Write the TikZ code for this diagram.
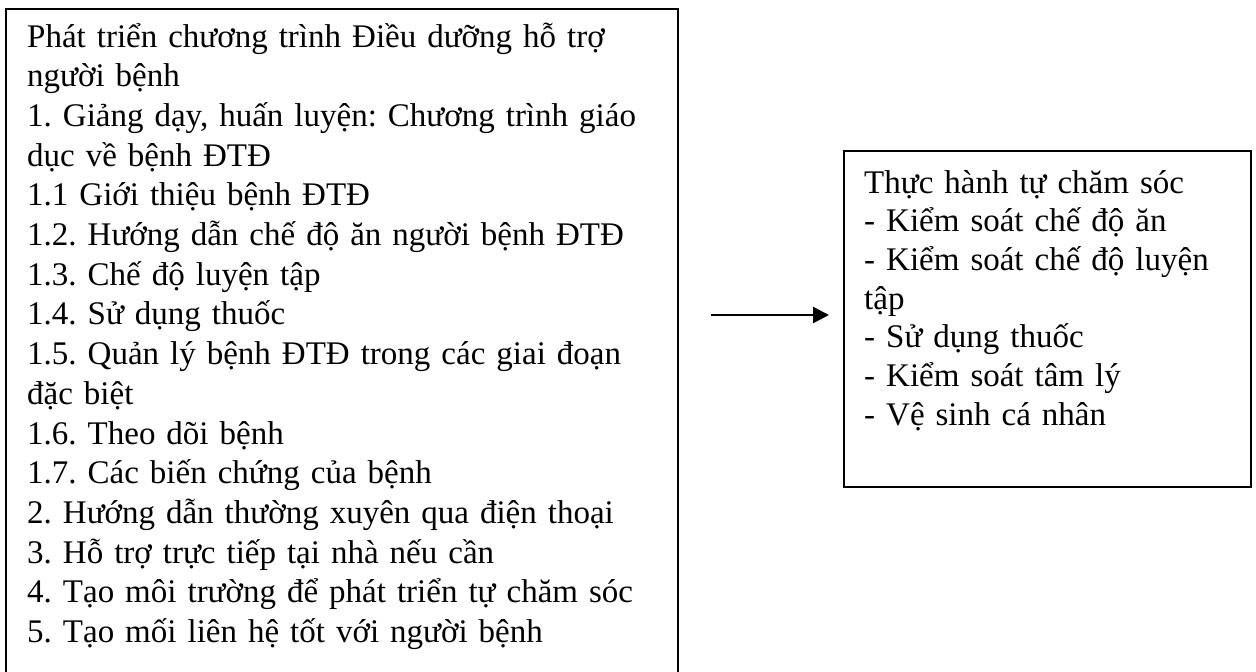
\documentclass[tikz,border=0pt]{standalone}
\usepackage{fontspec}
\setmainfont{Liberation Serif}
\usetikzlibrary{arrows.meta}
\frenchspacing
\begin{document}
\begin{tikzpicture}[x=1pt,y=-1pt,
  box/.style={draw=black,line width=2pt,inner sep=0pt,fill=none},
  txt/.style={inner sep=0pt,anchor=base west,align=left,text width=#1,font=\fontsize{33}{39.7}\selectfont},
  txtr/.style={inner sep=0pt,anchor=base west,align=left,text width=#1,font=\fontsize{33}{38.7}\selectfont},
  conn/.style={line width=2.4pt,-{Triangle[length=16pt,width=16pt]}}]
\useasboundingbox[fill=white] (0,0) rectangle (1256,672);
\clip (0,0) rectangle (1256,672);
\node[box,anchor=north west,minimum width=672pt,minimum height=720pt] (L) at (5,8) {};
\node[txt=650pt] (Lt) at (27,47) {Phát triển chương trình Điều dưỡng hỗ trợ\\
người bệnh\\
1. Giảng dạy, huấn luyện: Chương trình giáo\\
dục về bệnh ĐTĐ\\
1.1 Giới thiệu bệnh ĐTĐ\\
1.2. Hướng dẫn chế độ ăn người bệnh ĐTĐ\\
1.3. Chế độ luyện tập\\
1.4. Sử dụng thuốc\\
1.5. Quản lý bệnh ĐTĐ trong các giai đoạn\\
đặc biệt\\
1.6. Theo dõi bệnh\\
1.7. Các biến chứng của bệnh\\
2. Hướng dẫn thường xuyên qua điện thoại\\
3. Hỗ trợ trực tiếp tại nhà nếu cần\\
4. Tạo môi trường để phát triển tự chăm sóc\\
5. Tạo mối liên hệ tốt với người bệnh};
\node[box,anchor=north west,minimum width=407pt,minimum height=336pt] (R) at (843,150) {};
\node[txtr=380pt] (Rt) at (864,193) {Thực hành tự chăm sóc\\
- Kiểm soát chế độ ăn\\
- Kiểm soát chế độ luyện\\
tập\\
- Sử dụng thuốc\\
- Kiểm soát tâm lý\\
- Vệ sinh cá nhân};
\draw[conn,shorten <=32pt,shorten >=14pt] ([yshift=4pt]L.east |- R.west) -- ([yshift=4pt]R.west);
\end{tikzpicture}
\end{document}
